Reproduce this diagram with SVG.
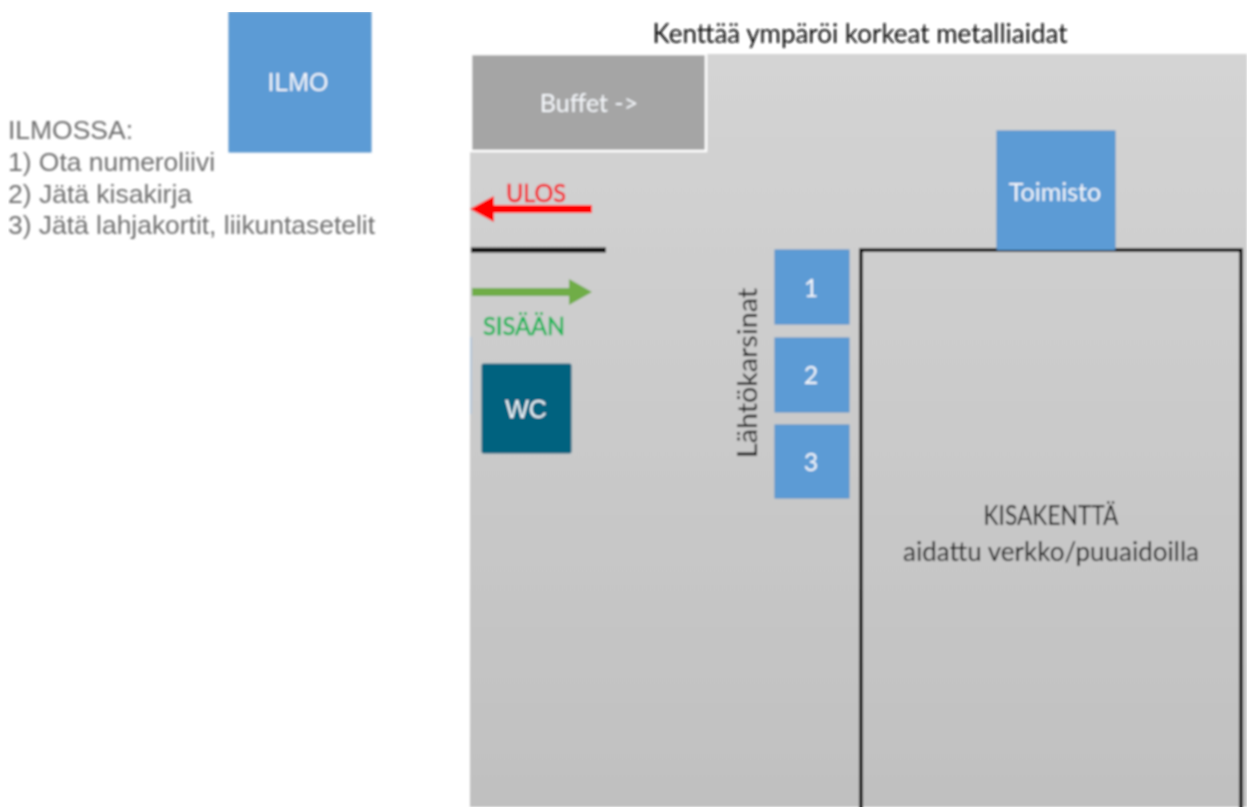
<svg xmlns="http://www.w3.org/2000/svg" width="1247" height="807" viewBox="0 0 1247 807">
<style>
.c{font-family:Lato,"Liberation Sans",sans-serif;text-anchor:middle}
.a{font-family:"Liberation Sans",Arial,sans-serif}
.w{fill:#f4f7fb;font-size:25px}
.b{fill:#5b9bd5;stroke:#5490c8;stroke-width:1}
.k{fill:#111;font-size:26px}
.g{fill:#6f6f6f;font-size:26px}
</style>
<defs>
<linearGradient id="bg" x1="0" y1="0" x2="0" y2="1"><stop offset="0" stop-color="#d4d4d4"/><stop offset="1" stop-color="#c0c0c0"/></linearGradient>
<filter id="soft" x="0" y="0" width="100%" height="100%"><feGaussianBlur stdDeviation="0.9"/></filter>
</defs>
<rect width="1247" height="807" fill="#fff"/>
<g filter="url(#soft)">
<g id="field-area"><rect x="470" y="54" width="777" height="753" fill="url(#bg)"/></g>
<rect x="470" y="337" width="2" height="77" fill="#b4c6d8"/>
<g id="title"><text class="c k" x="860" y="43" textLength="415" lengthAdjust="spacingAndGlyphs">Kenttää ympäröi korkeat metalliaidat</text></g>
<g id="ilmo"><rect class="b" x="229" y="12" width="142" height="140"/><text class="c w" x="298" y="91" textLength="61" lengthAdjust="spacingAndGlyphs" style="font-family:'Liberation Sans',sans-serif">ILMO</text></g>
<g id="ilmossa">
<text class="a g" x="8" y="139" textLength="125" lengthAdjust="spacingAndGlyphs">ILMOSSA:</text>
<text class="a g" x="8" y="171" textLength="207" lengthAdjust="spacingAndGlyphs">1) Ota numeroliivi</text>
<text class="a g" x="8" y="203" textLength="184" lengthAdjust="spacingAndGlyphs">2) Jätä kisakirja</text>
<text class="a g" x="8" y="234" textLength="367" lengthAdjust="spacingAndGlyphs">3) Jätä lahjakortit, liikuntasetelit</text>
</g>
<g id="buffet"><rect x="471" y="54" width="235" height="97" fill="#a5a5a5" stroke="#fff" stroke-width="2.5"/><text class="c w" x="589" y="112">Buffet -&gt;</text></g>
<g id="ulos-label"><text class="c" x="536" y="202" fill="#f5121f" stroke="#f5121f" stroke-width=".5" font-size="25" textLength="60" lengthAdjust="spacingAndGlyphs">ULOS</text></g>
<g id="sisaan-label"><text class="c" x="524" y="335" fill="#0fb455" stroke="#0fb455" stroke-width=".5" font-size="25" textLength="82" lengthAdjust="spacingAndGlyphs">SISÄÄN</text></g>
<g id="wc"><rect x="481.500" y="363.500" width="90" height="90" rx="2" fill="#02627f"/><text class="c w" x="526" y="418" style="font-family:'Liberation Sans',sans-serif">WC</text></g>
<g id="connectors">
<path d="M592 209H492" fill="none" stroke="#ff0000" stroke-width="8"/>
<path d="M470 209L494 196V222Z" fill="#ff0000"/>
<path d="M471 250H606" fill="none" stroke="#000" stroke-width="5"/>
<path d="M472 292H570" fill="none" stroke="#70ad47" stroke-width="8"/>
<path d="M592 292L569 279V305Z" fill="#70ad47"/>
</g>
<g id="kisakentta"><rect x="861" y="250" width="380" height="570" fill="none" stroke="#000" stroke-width="3.500"/>
<text class="c k" x="1051" y="525" textLength="135" lengthAdjust="spacingAndGlyphs">KISAKENTTÄ</text><text class="c k" x="1051" y="561" textLength="296" lengthAdjust="spacingAndGlyphs">aidattu verkko/puuaidoilla</text></g>
<g id="toimisto"><rect class="b" x="997" y="131" width="118" height="119"/><text class="c w" x="1055" y="201">Toimisto</text></g>
<g id="k1"><rect class="b" x="775" y="250" width="74" height="74"/><text class="c w" x="811" y="297">1</text></g>
<g id="k2"><rect class="b" x="775" y="338" width="74" height="74"/><text class="c w" x="811" y="384">2</text></g>
<g id="k3"><rect class="b" x="775" y="425" width="74" height="73"/><text class="c w" x="811" y="471">3</text></g>
<g id="lahtokarsinat"><text class="c k" transform="translate(757 373) rotate(-90)" textLength="170" lengthAdjust="spacingAndGlyphs">Lähtökarsinat</text></g>
</g>
</svg>
